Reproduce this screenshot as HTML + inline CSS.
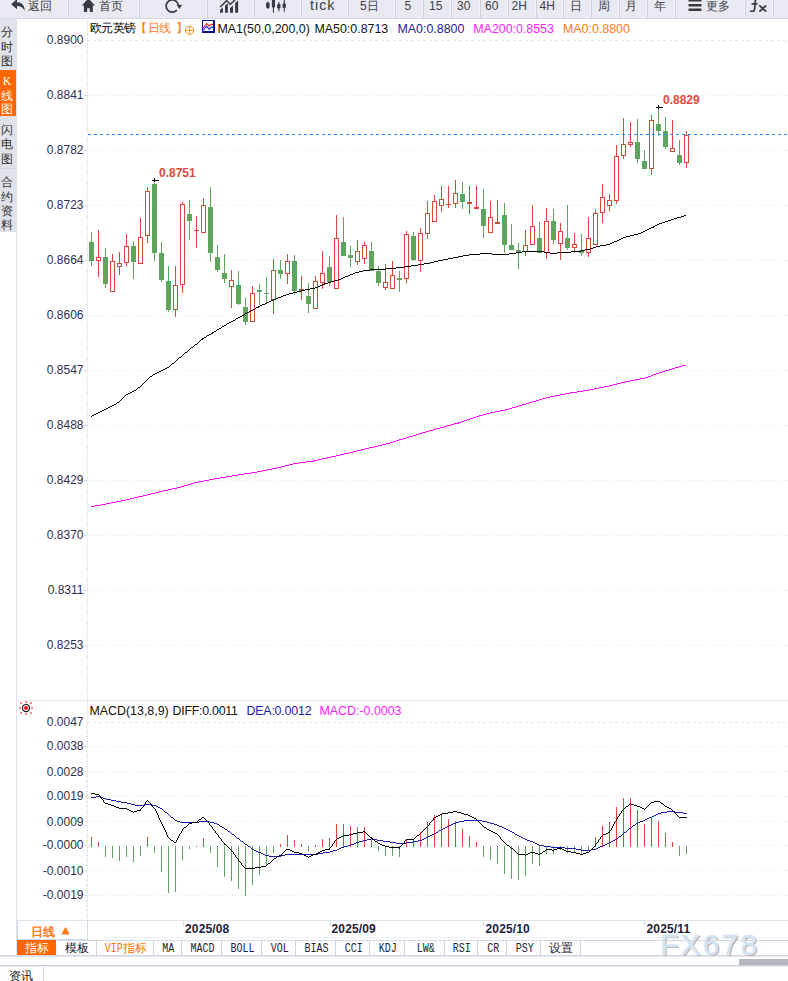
<!DOCTYPE html>
<html lang="zh"><head><meta charset="utf-8"><title>K线图</title>
<style>
html,body{margin:0;padding:0;background:#fff}
body{width:788px;height:981px;position:relative;overflow:hidden;font-family:"Liberation Sans",sans-serif;font-size:12px;color:#222}
#page{position:absolute;left:0;top:0;width:788px;height:981px;overflow:hidden;background:#fff}
#toolbar{position:absolute;left:0;top:0;width:788px;height:18px;background:#e8e9f1;border-bottom:1px solid #d6d8e1}
.sep{position:absolute;top:0;width:1px;height:18px;background:#f1f2f7;box-shadow:1px 0 0 #cdd0da}
.tbt{position:absolute;top:-3.5px;height:18px;line-height:18px;font-size:12px;color:#404248;white-space:nowrap}
.tbi{position:absolute;top:0;overflow:visible}
#side{position:absolute;left:0;top:19px;width:17px;height:213px;background:#e0e2ea}
.sc{position:absolute;left:-1px;width:16px;text-align:center;font-size:12px;line-height:14px;color:#333;height:14px}
.yl{position:absolute;left:20px;width:63.5px;text-align:right;font-size:12px;line-height:16px;height:16px;color:#2e2e50;white-space:nowrap}
.lg{position:absolute;top:19.5px;height:18px;line-height:18px;font-size:12.4px;white-space:nowrap;color:#111}
.mg{position:absolute;top:702px;height:18px;line-height:18px;font-size:12.4px;white-space:nowrap;color:#111}
.pl{position:absolute;font-size:12px;font-weight:bold;color:#dc4a40;line-height:14px;white-space:nowrap}
.tl{position:absolute;top:922px;letter-spacing:0.15px;font-size:12px;font-weight:bold;color:#22223c;line-height:14px;white-space:nowrap}
.tk{position:absolute;top:921px;width:1px;height:5px;background:#d3dbe6}
.btab{position:absolute;top:941px;height:14px;line-height:15px;text-align:center;font-size:12px;color:#1c2233;border-right:1px solid #cfd8e2;white-space:nowrap}
.btab .mn{display:inline-block;font-family:"Liberation Mono",monospace;font-size:12px;transform:scaleX(.835);transform-origin:50% 50%;margin:0 -2px}
.btab.vip{color:#ff7200}
.btab.vip .mn{margin:0 -1.5px 0 -2px}
</style></head>
<body><div id="page">
<svg id="chart" width="788" height="981" viewBox="0 0 788 981" style="position:absolute;left:0;top:0">
<g shape-rendering="crispEdges">
<rect x="87" y="19" width="1" height="921" fill="#e9eef4"/>
<rect x="16" y="232" width="1" height="724" fill="#dbe2ec"/>
<line x1="87" y1="40.5" x2="788" y2="40.5" stroke="#e1e9f0" stroke-width="1" stroke-dasharray="3 3"/>
<line x1="88" y1="95.5" x2="788" y2="95.5" stroke="#e4eaf1" stroke-width="1" stroke-dasharray="1 2"/>
<rect x="84" y="95" width="3" height="1" fill="#ccd6e0"/>
<line x1="88" y1="150.5" x2="788" y2="150.5" stroke="#e4eaf1" stroke-width="1" stroke-dasharray="1 2"/>
<rect x="84" y="150" width="3" height="1" fill="#ccd6e0"/>
<line x1="88" y1="205.5" x2="788" y2="205.5" stroke="#e4eaf1" stroke-width="1" stroke-dasharray="1 2"/>
<rect x="84" y="205" width="3" height="1" fill="#ccd6e0"/>
<line x1="88" y1="260.5" x2="788" y2="260.5" stroke="#e4eaf1" stroke-width="1" stroke-dasharray="1 2"/>
<rect x="84" y="260" width="3" height="1" fill="#ccd6e0"/>
<line x1="88" y1="315.5" x2="788" y2="315.5" stroke="#e4eaf1" stroke-width="1" stroke-dasharray="1 2"/>
<rect x="84" y="315" width="3" height="1" fill="#ccd6e0"/>
<line x1="88" y1="370.5" x2="788" y2="370.5" stroke="#e4eaf1" stroke-width="1" stroke-dasharray="1 2"/>
<rect x="84" y="370" width="3" height="1" fill="#ccd6e0"/>
<line x1="88" y1="425.5" x2="788" y2="425.5" stroke="#e4eaf1" stroke-width="1" stroke-dasharray="1 2"/>
<rect x="84" y="425" width="3" height="1" fill="#ccd6e0"/>
<line x1="88" y1="480.5" x2="788" y2="480.5" stroke="#e4eaf1" stroke-width="1" stroke-dasharray="1 2"/>
<rect x="84" y="480" width="3" height="1" fill="#ccd6e0"/>
<line x1="88" y1="535.5" x2="788" y2="535.5" stroke="#e4eaf1" stroke-width="1" stroke-dasharray="1 2"/>
<rect x="84" y="535" width="3" height="1" fill="#ccd6e0"/>
<line x1="88" y1="590.5" x2="788" y2="590.5" stroke="#e4eaf1" stroke-width="1" stroke-dasharray="1 2"/>
<rect x="84" y="590" width="3" height="1" fill="#ccd6e0"/>
<line x1="88" y1="645.5" x2="788" y2="645.5" stroke="#e4eaf1" stroke-width="1" stroke-dasharray="1 2"/>
<rect x="84" y="645" width="3" height="1" fill="#ccd6e0"/>
<rect x="86" y="51" width="1" height="1" fill="#c8d2dc"/>
<rect x="86" y="62" width="1" height="1" fill="#c8d2dc"/>
<rect x="86" y="73" width="1" height="1" fill="#c8d2dc"/>
<rect x="86" y="84" width="1" height="1" fill="#c8d2dc"/>
<rect x="86" y="106" width="1" height="1" fill="#c8d2dc"/>
<rect x="86" y="117" width="1" height="1" fill="#c8d2dc"/>
<rect x="86" y="128" width="1" height="1" fill="#c8d2dc"/>
<rect x="86" y="139" width="1" height="1" fill="#c8d2dc"/>
<rect x="86" y="161" width="1" height="1" fill="#c8d2dc"/>
<rect x="86" y="172" width="1" height="1" fill="#c8d2dc"/>
<rect x="86" y="183" width="1" height="1" fill="#c8d2dc"/>
<rect x="86" y="194" width="1" height="1" fill="#c8d2dc"/>
<rect x="86" y="216" width="1" height="1" fill="#c8d2dc"/>
<rect x="86" y="227" width="1" height="1" fill="#c8d2dc"/>
<rect x="86" y="238" width="1" height="1" fill="#c8d2dc"/>
<rect x="86" y="249" width="1" height="1" fill="#c8d2dc"/>
<rect x="86" y="271" width="1" height="1" fill="#c8d2dc"/>
<rect x="86" y="282" width="1" height="1" fill="#c8d2dc"/>
<rect x="86" y="293" width="1" height="1" fill="#c8d2dc"/>
<rect x="86" y="304" width="1" height="1" fill="#c8d2dc"/>
<rect x="86" y="326" width="1" height="1" fill="#c8d2dc"/>
<rect x="86" y="337" width="1" height="1" fill="#c8d2dc"/>
<rect x="86" y="348" width="1" height="1" fill="#c8d2dc"/>
<rect x="86" y="359" width="1" height="1" fill="#c8d2dc"/>
<rect x="86" y="381" width="1" height="1" fill="#c8d2dc"/>
<rect x="86" y="392" width="1" height="1" fill="#c8d2dc"/>
<rect x="86" y="403" width="1" height="1" fill="#c8d2dc"/>
<rect x="86" y="414" width="1" height="1" fill="#c8d2dc"/>
<rect x="86" y="436" width="1" height="1" fill="#c8d2dc"/>
<rect x="86" y="447" width="1" height="1" fill="#c8d2dc"/>
<rect x="86" y="458" width="1" height="1" fill="#c8d2dc"/>
<rect x="86" y="469" width="1" height="1" fill="#c8d2dc"/>
<rect x="86" y="491" width="1" height="1" fill="#c8d2dc"/>
<rect x="86" y="502" width="1" height="1" fill="#c8d2dc"/>
<rect x="86" y="513" width="1" height="1" fill="#c8d2dc"/>
<rect x="86" y="524" width="1" height="1" fill="#c8d2dc"/>
<rect x="86" y="546" width="1" height="1" fill="#c8d2dc"/>
<rect x="86" y="557" width="1" height="1" fill="#c8d2dc"/>
<rect x="86" y="568" width="1" height="1" fill="#c8d2dc"/>
<rect x="86" y="579" width="1" height="1" fill="#c8d2dc"/>
<rect x="86" y="601" width="1" height="1" fill="#c8d2dc"/>
<rect x="86" y="612" width="1" height="1" fill="#c8d2dc"/>
<rect x="86" y="623" width="1" height="1" fill="#c8d2dc"/>
<rect x="86" y="634" width="1" height="1" fill="#c8d2dc"/>
<rect x="86" y="656" width="1" height="1" fill="#c8d2dc"/>
<rect x="86" y="667" width="1" height="1" fill="#c8d2dc"/>
<rect x="86" y="678" width="1" height="1" fill="#c8d2dc"/>
<rect x="86" y="689" width="1" height="1" fill="#c8d2dc"/>
<rect x="17" y="700" width="771" height="1" fill="#e3e8ef"/>
<line x1="87" y1="722.5" x2="788" y2="722.5" stroke="#e1e9f0" stroke-width="1" stroke-dasharray="3 3"/>
<line x1="88" y1="746.5" x2="788" y2="746.5" stroke="#e4eaf1" stroke-width="1" stroke-dasharray="1 2"/>
<rect x="85" y="746" width="2" height="1" fill="#ccd6e0"/>
<line x1="88" y1="771.5" x2="788" y2="771.5" stroke="#e4eaf1" stroke-width="1" stroke-dasharray="1 2"/>
<rect x="85" y="771" width="2" height="1" fill="#ccd6e0"/>
<line x1="88" y1="796.5" x2="788" y2="796.5" stroke="#e4eaf1" stroke-width="1" stroke-dasharray="1 2"/>
<rect x="85" y="796" width="2" height="1" fill="#ccd6e0"/>
<line x1="88" y1="821.5" x2="788" y2="821.5" stroke="#e4eaf1" stroke-width="1" stroke-dasharray="1 2"/>
<rect x="85" y="821" width="2" height="1" fill="#ccd6e0"/>
<line x1="88" y1="845.5" x2="788" y2="845.5" stroke="#e4eaf1" stroke-width="1" stroke-dasharray="1 2"/>
<rect x="85" y="845" width="2" height="1" fill="#ccd6e0"/>
<line x1="88" y1="870.5" x2="788" y2="870.5" stroke="#e4eaf1" stroke-width="1" stroke-dasharray="1 2"/>
<rect x="85" y="870" width="2" height="1" fill="#ccd6e0"/>
<line x1="88" y1="895.5" x2="788" y2="895.5" stroke="#e4eaf1" stroke-width="1" stroke-dasharray="1 2"/>
<rect x="85" y="895" width="2" height="1" fill="#ccd6e0"/>
<rect x="86" y="726" width="1" height="1" fill="#c8d2dc"/>
<rect x="86" y="731" width="1" height="1" fill="#c8d2dc"/>
<rect x="86" y="736" width="1" height="1" fill="#c8d2dc"/>
<rect x="86" y="741" width="1" height="1" fill="#c8d2dc"/>
<rect x="86" y="751" width="1" height="1" fill="#c8d2dc"/>
<rect x="86" y="756" width="1" height="1" fill="#c8d2dc"/>
<rect x="86" y="761" width="1" height="1" fill="#c8d2dc"/>
<rect x="86" y="766" width="1" height="1" fill="#c8d2dc"/>
<rect x="86" y="776" width="1" height="1" fill="#c8d2dc"/>
<rect x="86" y="781" width="1" height="1" fill="#c8d2dc"/>
<rect x="86" y="786" width="1" height="1" fill="#c8d2dc"/>
<rect x="86" y="791" width="1" height="1" fill="#c8d2dc"/>
<rect x="86" y="801" width="1" height="1" fill="#c8d2dc"/>
<rect x="86" y="806" width="1" height="1" fill="#c8d2dc"/>
<rect x="86" y="811" width="1" height="1" fill="#c8d2dc"/>
<rect x="86" y="816" width="1" height="1" fill="#c8d2dc"/>
<rect x="86" y="825" width="1" height="1" fill="#c8d2dc"/>
<rect x="86" y="830" width="1" height="1" fill="#c8d2dc"/>
<rect x="86" y="835" width="1" height="1" fill="#c8d2dc"/>
<rect x="86" y="840" width="1" height="1" fill="#c8d2dc"/>
<rect x="86" y="850" width="1" height="1" fill="#c8d2dc"/>
<rect x="86" y="855" width="1" height="1" fill="#c8d2dc"/>
<rect x="86" y="860" width="1" height="1" fill="#c8d2dc"/>
<rect x="86" y="865" width="1" height="1" fill="#c8d2dc"/>
<rect x="86" y="875" width="1" height="1" fill="#c8d2dc"/>
<rect x="86" y="880" width="1" height="1" fill="#c8d2dc"/>
<rect x="86" y="885" width="1" height="1" fill="#c8d2dc"/>
<rect x="86" y="890" width="1" height="1" fill="#c8d2dc"/>
<rect x="86" y="900" width="1" height="1" fill="#c8d2dc"/>
<rect x="86" y="905" width="1" height="1" fill="#c8d2dc"/>
<rect x="86" y="910" width="1" height="1" fill="#c8d2dc"/>
<rect x="86" y="915" width="1" height="1" fill="#c8d2dc"/>
<rect x="17" y="920" width="771" height="1" fill="#dfe5ec"/>
</g>
<g shape-rendering="crispEdges">
<rect x="91" y="232" width="1" height="34" fill="#5fa55d"/>
<rect x="89" y="242" width="5" height="19" fill="#5fa55d"/>
<rect x="98" y="230" width="1" height="47" fill="#d8463c"/>
<rect x="96" y="257" width="5" height="4" fill="#d8463c"/>
<rect x="97" y="258" width="3" height="2" fill="#fff"/>
<rect x="105" y="248" width="1" height="40" fill="#5fa55d"/>
<rect x="103" y="257" width="5" height="27" fill="#5fa55d"/>
<rect x="112" y="254" width="1" height="38" fill="#d8463c"/>
<rect x="110" y="261" width="5" height="31" fill="#d8463c"/>
<rect x="111" y="262" width="3" height="29" fill="#fff"/>
<rect x="119" y="252" width="1" height="23" fill="#d8463c"/>
<rect x="117" y="263" width="5" height="4" fill="#d8463c"/>
<rect x="118" y="264" width="3" height="2" fill="#fff"/>
<rect x="126" y="234" width="1" height="32" fill="#d8463c"/>
<rect x="124" y="246" width="5" height="17" fill="#d8463c"/>
<rect x="125" y="247" width="3" height="15" fill="#fff"/>
<rect x="133" y="241" width="1" height="38" fill="#5fa55d"/>
<rect x="131" y="246" width="5" height="16" fill="#5fa55d"/>
<rect x="140" y="218" width="1" height="46" fill="#d8463c"/>
<rect x="138" y="237" width="5" height="27" fill="#d8463c"/>
<rect x="139" y="238" width="3" height="25" fill="#fff"/>
<rect x="147" y="187" width="1" height="56" fill="#d8463c"/>
<rect x="145" y="191" width="5" height="45" fill="#d8463c"/>
<rect x="146" y="192" width="3" height="43" fill="#fff"/>
<rect x="154" y="182" width="1" height="79" fill="#5fa55d"/>
<rect x="152" y="184" width="5" height="69" fill="#5fa55d"/>
<rect x="161" y="242" width="1" height="40" fill="#5fa55d"/>
<rect x="159" y="253" width="5" height="27" fill="#5fa55d"/>
<rect x="168" y="266" width="1" height="46" fill="#5fa55d"/>
<rect x="166" y="281" width="5" height="29" fill="#5fa55d"/>
<rect x="175" y="266" width="1" height="51" fill="#d8463c"/>
<rect x="173" y="285" width="5" height="25" fill="#d8463c"/>
<rect x="174" y="286" width="3" height="23" fill="#fff"/>
<rect x="182" y="202" width="1" height="91" fill="#d8463c"/>
<rect x="180" y="204" width="5" height="81" fill="#d8463c"/>
<rect x="181" y="205" width="3" height="79" fill="#fff"/>
<rect x="189" y="200" width="1" height="40" fill="#5fa55d"/>
<rect x="187" y="214" width="5" height="7" fill="#5fa55d"/>
<rect x="196" y="216" width="1" height="32" fill="#d8463c"/>
<rect x="194" y="230" width="5" height="1" fill="#d8463c"/>
<rect x="203" y="198" width="1" height="35" fill="#d8463c"/>
<rect x="201" y="205" width="5" height="28" fill="#d8463c"/>
<rect x="202" y="206" width="3" height="26" fill="#fff"/>
<rect x="210" y="187" width="1" height="75" fill="#5fa55d"/>
<rect x="208" y="207" width="5" height="46" fill="#5fa55d"/>
<rect x="217" y="245" width="1" height="27" fill="#5fa55d"/>
<rect x="215" y="257" width="5" height="13" fill="#5fa55d"/>
<rect x="224" y="254" width="1" height="29" fill="#5fa55d"/>
<rect x="222" y="273" width="5" height="6" fill="#5fa55d"/>
<rect x="231" y="270" width="1" height="38" fill="#d8463c"/>
<rect x="229" y="280" width="5" height="7" fill="#d8463c"/>
<rect x="230" y="281" width="3" height="5" fill="#fff"/>
<rect x="238" y="271" width="1" height="34" fill="#5fa55d"/>
<rect x="236" y="285" width="5" height="19" fill="#5fa55d"/>
<rect x="245" y="298" width="1" height="27" fill="#5fa55d"/>
<rect x="243" y="307" width="5" height="15" fill="#5fa55d"/>
<rect x="252" y="286" width="1" height="36" fill="#d8463c"/>
<rect x="250" y="293" width="5" height="29" fill="#d8463c"/>
<rect x="251" y="294" width="3" height="27" fill="#fff"/>
<rect x="259" y="284" width="1" height="21" fill="#5fa55d"/>
<rect x="257" y="290" width="5" height="2" fill="#5fa55d"/>
<rect x="266" y="277" width="1" height="27" fill="#5fa55d"/>
<rect x="264" y="293" width="5" height="1" fill="#5fa55d"/>
<rect x="273" y="259" width="1" height="55" fill="#d8463c"/>
<rect x="271" y="270" width="5" height="30" fill="#d8463c"/>
<rect x="272" y="271" width="3" height="28" fill="#fff"/>
<rect x="280" y="260" width="1" height="19" fill="#5fa55d"/>
<rect x="278" y="270" width="5" height="4" fill="#5fa55d"/>
<rect x="287" y="254" width="1" height="30" fill="#d8463c"/>
<rect x="285" y="261" width="5" height="13" fill="#d8463c"/>
<rect x="286" y="262" width="3" height="11" fill="#fff"/>
<rect x="294" y="255" width="1" height="40" fill="#5fa55d"/>
<rect x="292" y="261" width="5" height="30" fill="#5fa55d"/>
<rect x="301" y="276" width="1" height="24" fill="#d8463c"/>
<rect x="299" y="289" width="5" height="2" fill="#d8463c"/>
<rect x="308" y="283" width="1" height="30" fill="#5fa55d"/>
<rect x="306" y="296" width="5" height="8" fill="#5fa55d"/>
<rect x="315" y="276" width="1" height="33" fill="#d8463c"/>
<rect x="313" y="281" width="5" height="28" fill="#d8463c"/>
<rect x="314" y="282" width="3" height="26" fill="#fff"/>
<rect x="322" y="251" width="1" height="38" fill="#d8463c"/>
<rect x="320" y="273" width="5" height="10" fill="#d8463c"/>
<rect x="321" y="274" width="3" height="8" fill="#fff"/>
<rect x="329" y="256" width="1" height="30" fill="#5fa55d"/>
<rect x="327" y="267" width="5" height="15" fill="#5fa55d"/>
<rect x="336" y="215" width="1" height="74" fill="#d8463c"/>
<rect x="334" y="238" width="5" height="51" fill="#d8463c"/>
<rect x="335" y="239" width="3" height="49" fill="#fff"/>
<rect x="343" y="217" width="1" height="39" fill="#5fa55d"/>
<rect x="341" y="242" width="5" height="14" fill="#5fa55d"/>
<rect x="350" y="246" width="1" height="21" fill="#5fa55d"/>
<rect x="348" y="255" width="5" height="3" fill="#5fa55d"/>
<rect x="357" y="240" width="1" height="25" fill="#d8463c"/>
<rect x="355" y="251" width="5" height="11" fill="#d8463c"/>
<rect x="356" y="252" width="3" height="9" fill="#fff"/>
<rect x="364" y="242" width="1" height="22" fill="#d8463c"/>
<rect x="362" y="245" width="5" height="14" fill="#d8463c"/>
<rect x="363" y="246" width="3" height="12" fill="#fff"/>
<rect x="371" y="242" width="1" height="29" fill="#5fa55d"/>
<rect x="369" y="251" width="5" height="20" fill="#5fa55d"/>
<rect x="378" y="266" width="1" height="20" fill="#5fa55d"/>
<rect x="376" y="271" width="5" height="12" fill="#5fa55d"/>
<rect x="385" y="264" width="1" height="26" fill="#d8463c"/>
<rect x="383" y="282" width="5" height="6" fill="#d8463c"/>
<rect x="384" y="283" width="3" height="4" fill="#fff"/>
<rect x="392" y="261" width="1" height="28" fill="#d8463c"/>
<rect x="390" y="275" width="5" height="14" fill="#d8463c"/>
<rect x="391" y="276" width="3" height="12" fill="#fff"/>
<rect x="399" y="271" width="1" height="21" fill="#5fa55d"/>
<rect x="397" y="278" width="5" height="2" fill="#5fa55d"/>
<rect x="406" y="231" width="1" height="52" fill="#d8463c"/>
<rect x="404" y="234" width="5" height="45" fill="#d8463c"/>
<rect x="405" y="235" width="3" height="43" fill="#fff"/>
<rect x="413" y="232" width="1" height="29" fill="#5fa55d"/>
<rect x="411" y="236" width="5" height="24" fill="#5fa55d"/>
<rect x="420" y="228" width="1" height="44" fill="#d8463c"/>
<rect x="418" y="233" width="5" height="28" fill="#d8463c"/>
<rect x="419" y="234" width="3" height="26" fill="#fff"/>
<rect x="427" y="201" width="1" height="38" fill="#d8463c"/>
<rect x="425" y="213" width="5" height="21" fill="#d8463c"/>
<rect x="426" y="214" width="3" height="19" fill="#fff"/>
<rect x="434" y="195" width="1" height="27" fill="#d8463c"/>
<rect x="432" y="201" width="5" height="21" fill="#d8463c"/>
<rect x="433" y="202" width="3" height="19" fill="#fff"/>
<rect x="441" y="186" width="1" height="26" fill="#d8463c"/>
<rect x="439" y="199" width="5" height="7" fill="#d8463c"/>
<rect x="440" y="200" width="3" height="5" fill="#fff"/>
<rect x="448" y="186" width="1" height="22" fill="#d8463c"/>
<rect x="446" y="204" width="5" height="1" fill="#d8463c"/>
<rect x="455" y="180" width="1" height="28" fill="#d8463c"/>
<rect x="453" y="193" width="5" height="11" fill="#d8463c"/>
<rect x="454" y="194" width="3" height="9" fill="#fff"/>
<rect x="462" y="182" width="1" height="27" fill="#5fa55d"/>
<rect x="460" y="194" width="5" height="8" fill="#5fa55d"/>
<rect x="469" y="186" width="1" height="28" fill="#d8463c"/>
<rect x="467" y="202" width="5" height="2" fill="#d8463c"/>
<rect x="476" y="186" width="1" height="23" fill="#d8463c"/>
<rect x="474" y="207" width="5" height="2" fill="#d8463c"/>
<rect x="483" y="189" width="1" height="49" fill="#5fa55d"/>
<rect x="481" y="209" width="5" height="17" fill="#5fa55d"/>
<rect x="490" y="201" width="1" height="32" fill="#d8463c"/>
<rect x="488" y="217" width="5" height="16" fill="#d8463c"/>
<rect x="489" y="218" width="3" height="14" fill="#fff"/>
<rect x="497" y="200" width="1" height="24" fill="#d8463c"/>
<rect x="495" y="222" width="5" height="2" fill="#d8463c"/>
<rect x="504" y="203" width="1" height="50" fill="#5fa55d"/>
<rect x="502" y="215" width="5" height="30" fill="#5fa55d"/>
<rect x="511" y="224" width="1" height="26" fill="#5fa55d"/>
<rect x="509" y="245" width="5" height="5" fill="#5fa55d"/>
<rect x="518" y="243" width="1" height="26" fill="#5fa55d"/>
<rect x="516" y="250" width="5" height="3" fill="#5fa55d"/>
<rect x="525" y="230" width="1" height="26" fill="#d8463c"/>
<rect x="523" y="245" width="5" height="7" fill="#d8463c"/>
<rect x="524" y="246" width="3" height="5" fill="#fff"/>
<rect x="532" y="205" width="1" height="40" fill="#d8463c"/>
<rect x="530" y="226" width="5" height="19" fill="#d8463c"/>
<rect x="531" y="227" width="3" height="17" fill="#fff"/>
<rect x="539" y="222" width="1" height="31" fill="#5fa55d"/>
<rect x="537" y="238" width="5" height="15" fill="#5fa55d"/>
<rect x="546" y="208" width="1" height="51" fill="#d8463c"/>
<rect x="544" y="221" width="5" height="32" fill="#d8463c"/>
<rect x="545" y="222" width="3" height="30" fill="#fff"/>
<rect x="553" y="209" width="1" height="35" fill="#5fa55d"/>
<rect x="551" y="221" width="5" height="19" fill="#5fa55d"/>
<rect x="560" y="223" width="1" height="37" fill="#d8463c"/>
<rect x="558" y="231" width="5" height="13" fill="#d8463c"/>
<rect x="559" y="232" width="3" height="11" fill="#fff"/>
<rect x="567" y="205" width="1" height="45" fill="#5fa55d"/>
<rect x="565" y="238" width="5" height="10" fill="#5fa55d"/>
<rect x="574" y="233" width="1" height="18" fill="#d8463c"/>
<rect x="572" y="244" width="5" height="4" fill="#d8463c"/>
<rect x="573" y="245" width="3" height="2" fill="#fff"/>
<rect x="581" y="234" width="1" height="22" fill="#5fa55d"/>
<rect x="579" y="250" width="5" height="3" fill="#5fa55d"/>
<rect x="588" y="217" width="1" height="40" fill="#d8463c"/>
<rect x="586" y="238" width="5" height="15" fill="#d8463c"/>
<rect x="587" y="239" width="3" height="13" fill="#fff"/>
<rect x="595" y="209" width="1" height="36" fill="#d8463c"/>
<rect x="593" y="213" width="5" height="32" fill="#d8463c"/>
<rect x="594" y="214" width="3" height="30" fill="#fff"/>
<rect x="602" y="184" width="1" height="39" fill="#d8463c"/>
<rect x="600" y="197" width="5" height="16" fill="#d8463c"/>
<rect x="601" y="198" width="3" height="14" fill="#fff"/>
<rect x="609" y="194" width="1" height="17" fill="#d8463c"/>
<rect x="607" y="200" width="5" height="6" fill="#d8463c"/>
<rect x="608" y="201" width="3" height="4" fill="#fff"/>
<rect x="616" y="145" width="1" height="59" fill="#d8463c"/>
<rect x="614" y="156" width="5" height="45" fill="#d8463c"/>
<rect x="615" y="157" width="3" height="43" fill="#fff"/>
<rect x="623" y="118" width="1" height="41" fill="#d8463c"/>
<rect x="621" y="144" width="5" height="12" fill="#d8463c"/>
<rect x="622" y="145" width="3" height="10" fill="#fff"/>
<rect x="630" y="122" width="1" height="25" fill="#d8463c"/>
<rect x="628" y="142" width="5" height="3" fill="#d8463c"/>
<rect x="629" y="143" width="3" height="1" fill="#fff"/>
<rect x="637" y="119" width="1" height="44" fill="#5fa55d"/>
<rect x="635" y="142" width="5" height="17" fill="#5fa55d"/>
<rect x="644" y="150" width="1" height="19" fill="#5fa55d"/>
<rect x="642" y="161" width="5" height="8" fill="#5fa55d"/>
<rect x="651" y="115" width="1" height="60" fill="#d8463c"/>
<rect x="649" y="120" width="5" height="49" fill="#d8463c"/>
<rect x="650" y="121" width="3" height="47" fill="#fff"/>
<rect x="658" y="109" width="1" height="27" fill="#5fa55d"/>
<rect x="656" y="124" width="5" height="7" fill="#5fa55d"/>
<rect x="665" y="117" width="1" height="32" fill="#5fa55d"/>
<rect x="663" y="131" width="5" height="16" fill="#5fa55d"/>
<rect x="672" y="120" width="1" height="32" fill="#d8463c"/>
<rect x="670" y="148" width="5" height="4" fill="#d8463c"/>
<rect x="671" y="149" width="3" height="2" fill="#fff"/>
<rect x="679" y="140" width="1" height="25" fill="#5fa55d"/>
<rect x="677" y="155" width="5" height="8" fill="#5fa55d"/>
<rect x="686" y="131" width="1" height="37" fill="#d8463c"/>
<rect x="684" y="135" width="5" height="28" fill="#d8463c"/>
<rect x="685" y="136" width="3" height="26" fill="#fff"/>
</g>
<line x1="88" y1="134.5" x2="788" y2="134.5" stroke="#1e8fff" stroke-width="1" stroke-dasharray="3 3" shape-rendering="crispEdges"/>
<path d="M684 215h2v1h-2zM681 216h3v1h-3zM677 217h4v1h-4zM674 218h3v1h-3zM671 219h3v1h-3zM668 220h3v1h-3zM665 221h3v1h-3zM662 222h3v1h-3zM659 223h3v1h-3zM657 224h2v1h-2zM655 225h2v1h-2zM653 226h2v1h-2zM651 227h3v1h-3zM649 228h2v1h-2zM647 229h2v1h-2zM645 230h2v1h-2zM643 231h2v1h-2zM641 232h2v1h-2zM638 233h3v1h-3zM634 234h4v1h-4zM630 235h4v1h-4zM626 236h4v1h-4zM623 237h3v1h-3zM621 238h2v1h-2zM619 239h2v1h-2zM617 240h2v1h-2zM614 241h3v1h-3zM612 242h2v1h-2zM610 243h2v1h-2zM606 244h4v1h-4zM600 245h6v1h-6zM596 246h4v1h-4zM593 247h3v1h-3zM590 248h3v1h-3zM585 249h5v1h-5zM581 250h4v1h-4zM522 251h22v1h-22zM571 251h10v1h-10zM516 252h6v1h-6zM544 252h6v1h-6zM557 252h14v1h-14zM480 253h12v1h-12zM509 253h7v1h-7zM550 253h7v1h-7zM469 254h11v1h-11zM492 254h17v1h-17zM463 255h6v1h-6zM458 256h5v1h-5zM453 257h5v1h-5zM448 258h5v1h-5zM443 259h5v1h-5zM438 260h5v1h-5zM434 261h4v1h-4zM430 262h4v1h-4zM424 263h6v1h-6zM418 264h6v1h-6zM411 265h7v1h-7zM404 266h7v1h-7zM396 267h8v1h-8zM386 268h10v1h-10zM370 269h16v1h-16zM363 270h7v1h-7zM359 271h4v1h-4zM355 272h4v1h-4zM353 273h2v1h-2zM350 274h3v1h-3zM348 275h2v1h-2zM345 276h3v1h-3zM343 277h2v1h-2zM341 278h2v1h-2zM338 279h3v1h-3zM334 280h4v1h-4zM331 281h3v1h-3zM328 282h3v1h-3zM324 283h4v1h-4zM322 284h3v1h-3zM320 285h2v1h-2zM318 286h2v1h-2zM315 287h3v1h-3zM310 288h5v1h-5zM305 289h5v1h-5zM301 290h4v1h-4zM297 291h4v1h-4zM293 292h4v1h-4zM289 293h4v1h-4zM286 294h3v1h-3zM283 295h3v1h-3zM281 296h2v1h-2zM278 297h3v1h-3zM276 298h2v1h-2zM273 299h3v1h-3zM271 300h2v1h-2zM269 301h2v1h-2zM267 302h2v1h-2zM265 303h2v1h-2zM262 304h3v1h-3zM260 305h2v1h-2zM258 306h2v1h-2zM256 307h3v1h-3zM255 308h1v1h-1zM253 309h2v1h-2zM251 310h2v1h-2zM249 311h2v1h-2zM247 312h2v1h-2zM245 313h2v1h-2zM244 314h1v1h-1zM242 315h2v1h-2zM240 316h2v1h-2zM238 317h2v1h-2zM236 318h2v1h-2zM235 319h1v1h-1zM233 320h2v1h-2zM231 321h2v1h-2zM229 322h2v1h-2zM227 323h2v1h-2zM226 324h1v1h-1zM224 325h2v1h-2zM222 326h2v1h-2zM221 327h1v1h-1zM219 328h2v1h-2zM217 329h2v1h-2zM216 330h1v1h-1zM214 331h2v1h-2zM212 332h2v1h-2zM211 333h2v1h-2zM209 334h2v1h-2zM207 335h2v1h-2zM206 336h1v1h-1zM204 337h2v1h-2zM202 338h2v1h-2zM201 339h2v1h-2zM200 340h1v1h-1zM199 341h1v1h-1zM198 342h1v1h-1zM197 343h1v1h-1zM195 344h2v1h-2zM194 345h1v1h-1zM193 346h1v1h-1zM191 347h2v1h-2zM190 348h1v1h-1zM189 349h1v1h-1zM188 350h1v1h-1zM187 351h1v1h-1zM185 352h2v1h-2zM184 353h1v1h-1zM183 354h1v1h-1zM182 355h1v1h-1zM181 356h1v1h-1zM179 357h2v1h-2zM178 358h1v1h-1zM177 359h1v1h-1zM176 360h1v1h-1zM175 361h1v1h-1zM174 362h1v1h-1zM172 363h2v1h-2zM171 364h1v1h-1zM170 365h1v1h-1zM169 366h1v1h-1zM167 367h2v1h-2zM165 368h2v1h-2zM163 369h2v1h-2zM161 370h2v1h-2zM159 371h2v1h-2zM157 372h2v1h-2zM155 373h2v1h-2zM153 374h2v1h-2zM152 375h1v1h-1zM150 376h2v1h-2zM149 377h1v1h-1zM148 378h1v1h-1zM147 379h1v1h-1zM146 380h1v1h-1zM145 381h1v1h-1zM144 382h1v1h-1zM143 383h1v1h-1zM142 384h1v1h-1zM141 385h1v1h-1zM140 386h1v1h-1zM138 387h2v1h-2zM137 388h1v1h-1zM136 389h1v1h-1zM134 390h2v1h-2zM132 391h2v1h-2zM130 392h2v1h-2zM128 393h2v1h-2zM126 394h2v1h-2zM125 395h1v1h-1zM124 396h1v1h-1zM123 397h1v1h-1zM122 398h1v1h-1zM121 399h1v1h-1zM120 400h1v1h-1zM119 401h1v1h-1zM117 402h2v1h-2zM116 403h1v1h-1zM114 404h2v1h-2zM112 405h2v1h-2zM110 406h2v1h-2zM108 407h2v1h-2zM106 408h2v1h-2zM104 409h2v1h-2zM102 410h2v1h-2zM100 411h2v1h-2zM98 412h2v1h-2zM96 413h2v1h-2zM94 414h2v1h-2zM92 415h2v1h-2zM91 416h1v1h-1z" fill="#000" shape-rendering="crispEdges"/>
<path d="M682 365h4v1h-4zM679 366h3v1h-3zM675 367h4v1h-4zM672 368h3v1h-3zM669 369h3v1h-3zM665 370h4v1h-4zM662 371h3v1h-3zM659 372h3v1h-3zM656 373h3v1h-3zM653 374h3v1h-3zM651 375h2v1h-2zM648 376h3v1h-3zM645 377h3v1h-3zM640 378h5v1h-5zM635 379h5v1h-5zM630 380h5v1h-5zM625 381h5v1h-5zM621 382h4v1h-4zM617 383h4v1h-4zM613 384h4v1h-4zM609 385h4v1h-4zM604 386h5v1h-5zM599 387h5v1h-5zM594 388h5v1h-5zM589 389h5v1h-5zM583 390h6v1h-6zM577 391h6v1h-6zM570 392h7v1h-7zM565 393h5v1h-5zM560 394h5v1h-5zM555 395h5v1h-5zM550 396h5v1h-5zM546 397h4v1h-4zM542 398h4v1h-4zM539 399h3v1h-3zM536 400h3v1h-3zM532 401h4v1h-4zM529 402h3v1h-3zM526 403h3v1h-3zM522 404h4v1h-4zM519 405h3v1h-3zM516 406h3v1h-3zM512 407h4v1h-4zM509 408h3v1h-3zM505 409h4v1h-4zM500 410h5v1h-5zM495 411h5v1h-5zM490 412h5v1h-5zM486 413h4v1h-4zM483 414h3v1h-3zM479 415h4v1h-4zM476 416h3v1h-3zM473 417h3v1h-3zM470 418h3v1h-3zM467 419h3v1h-3zM464 420h3v1h-3zM461 421h3v1h-3zM458 422h3v1h-3zM454 423h5v1h-5zM451 424h3v1h-3zM447 425h4v1h-4zM444 426h3v1h-3zM440 427h4v1h-4zM436 428h4v1h-4zM433 429h3v1h-3zM429 430h4v1h-4zM426 431h3v1h-3zM422 432h4v1h-4zM419 433h3v1h-3zM416 434h3v1h-3zM413 435h3v1h-3zM409 436h4v1h-4zM406 437h3v1h-3zM403 438h3v1h-3zM399 439h4v1h-4zM396 440h3v1h-3zM393 441h3v1h-3zM390 442h3v1h-3zM386 443h4v1h-4zM382 444h4v1h-4zM378 445h4v1h-4zM374 446h4v1h-4zM369 447h5v1h-5zM365 448h4v1h-4zM361 449h4v1h-4zM357 450h4v1h-4zM353 451h4v1h-4zM349 452h4v1h-4zM344 453h5v1h-5zM340 454h4v1h-4zM336 455h4v1h-4zM331 456h5v1h-5zM327 457h4v1h-4zM322 458h5v1h-5zM318 459h4v1h-4zM313 460h5v1h-5zM306 461h8v1h-8zM299 462h7v1h-7zM293 463h6v1h-6zM289 464h4v1h-4zM285 465h4v1h-4zM281 466h4v1h-4zM277 467h4v1h-4zM272 468h5v1h-5zM267 469h5v1h-5zM262 470h5v1h-5zM257 471h5v1h-5zM251 472h6v1h-6zM244 473h7v1h-7zM238 474h6v1h-6zM232 475h6v1h-6zM226 476h6v1h-6zM220 477h6v1h-6zM214 478h6v1h-6zM209 479h5v1h-5zM204 480h5v1h-5zM199 481h5v1h-5zM194 482h5v1h-5zM191 483h3v1h-3zM188 484h3v1h-3zM184 485h4v1h-4zM181 486h3v1h-3zM177 487h4v1h-4zM172 488h5v1h-5zM168 489h4v1h-4zM163 490h5v1h-5zM159 491h4v1h-4zM155 492h4v1h-4zM151 493h4v1h-4zM147 494h4v1h-4zM143 495h4v1h-4zM138 496h5v1h-5zM134 497h4v1h-4zM130 498h4v1h-4zM126 499h4v1h-4zM121 500h5v1h-5zM116 501h5v1h-5zM111 502h5v1h-5zM106 503h5v1h-5zM101 504h5v1h-5zM95 505h6v1h-6zM91 506h4v1h-4z" fill="#ff00ff" shape-rendering="crispEdges"/>
<g shape-rendering="crispEdges" fill="#000">
<rect x="152" y="180" width="7" height="1"/><rect x="154" y="178" width="1" height="4"/>
<rect x="656" y="107" width="7" height="1"/><rect x="658" y="105" width="1" height="4"/>
</g>
<g shape-rendering="crispEdges">
<rect x="91" y="837" width="1" height="10" fill="#d8463c"/>
<rect x="98" y="842" width="1" height="5" fill="#d8463c"/>
<rect x="105" y="846" width="1" height="11" fill="#5fa55d"/>
<rect x="112" y="846" width="1" height="12" fill="#5fa55d"/>
<rect x="119" y="846" width="1" height="15" fill="#5fa55d"/>
<rect x="126" y="846" width="1" height="11" fill="#5fa55d"/>
<rect x="133" y="846" width="1" height="16" fill="#5fa55d"/>
<rect x="140" y="846" width="1" height="10" fill="#5fa55d"/>
<rect x="147" y="837" width="1" height="10" fill="#d8463c"/>
<rect x="154" y="846" width="1" height="7" fill="#5fa55d"/>
<rect x="161" y="846" width="1" height="26" fill="#5fa55d"/>
<rect x="168" y="846" width="1" height="47" fill="#5fa55d"/>
<rect x="175" y="846" width="1" height="46" fill="#5fa55d"/>
<rect x="182" y="846" width="1" height="14" fill="#5fa55d"/>
<rect x="189" y="846" width="1" height="3" fill="#5fa55d"/>
<rect x="196" y="846" width="1" height="1" fill="#5fa55d"/>
<rect x="203" y="838" width="1" height="9" fill="#d8463c"/>
<rect x="210" y="846" width="1" height="7" fill="#5fa55d"/>
<rect x="217" y="846" width="1" height="21" fill="#5fa55d"/>
<rect x="224" y="846" width="1" height="31" fill="#5fa55d"/>
<rect x="231" y="846" width="1" height="35" fill="#5fa55d"/>
<rect x="238" y="846" width="1" height="43" fill="#5fa55d"/>
<rect x="245" y="846" width="1" height="50" fill="#5fa55d"/>
<rect x="252" y="846" width="1" height="39" fill="#5fa55d"/>
<rect x="259" y="846" width="1" height="29" fill="#5fa55d"/>
<rect x="266" y="846" width="1" height="20" fill="#5fa55d"/>
<rect x="273" y="846" width="1" height="7" fill="#5fa55d"/>
<rect x="280" y="844" width="1" height="3" fill="#d8463c"/>
<rect x="287" y="835" width="1" height="12" fill="#d8463c"/>
<rect x="294" y="840" width="1" height="7" fill="#d8463c"/>
<rect x="301" y="844" width="1" height="3" fill="#d8463c"/>
<rect x="308" y="846" width="1" height="5" fill="#5fa55d"/>
<rect x="315" y="845" width="1" height="2" fill="#d8463c"/>
<rect x="322" y="839" width="1" height="8" fill="#d8463c"/>
<rect x="329" y="838" width="1" height="9" fill="#d8463c"/>
<rect x="336" y="824" width="1" height="23" fill="#d8463c"/>
<rect x="343" y="824" width="1" height="23" fill="#d8463c"/>
<rect x="350" y="826" width="1" height="21" fill="#d8463c"/>
<rect x="357" y="827" width="1" height="20" fill="#d8463c"/>
<rect x="364" y="827" width="1" height="20" fill="#d8463c"/>
<rect x="371" y="838" width="1" height="9" fill="#d8463c"/>
<rect x="378" y="846" width="1" height="5" fill="#5fa55d"/>
<rect x="385" y="846" width="1" height="10" fill="#5fa55d"/>
<rect x="392" y="846" width="1" height="10" fill="#5fa55d"/>
<rect x="399" y="846" width="1" height="11" fill="#5fa55d"/>
<rect x="406" y="839" width="1" height="8" fill="#d8463c"/>
<rect x="413" y="839" width="1" height="8" fill="#d8463c"/>
<rect x="420" y="832" width="1" height="15" fill="#d8463c"/>
<rect x="427" y="822" width="1" height="25" fill="#d8463c"/>
<rect x="434" y="815" width="1" height="32" fill="#d8463c"/>
<rect x="441" y="814" width="1" height="33" fill="#d8463c"/>
<rect x="448" y="819" width="1" height="28" fill="#d8463c"/>
<rect x="455" y="821" width="1" height="26" fill="#d8463c"/>
<rect x="462" y="829" width="1" height="18" fill="#d8463c"/>
<rect x="469" y="836" width="1" height="11" fill="#d8463c"/>
<rect x="476" y="842" width="1" height="5" fill="#d8463c"/>
<rect x="483" y="846" width="1" height="11" fill="#5fa55d"/>
<rect x="490" y="846" width="1" height="14" fill="#5fa55d"/>
<rect x="497" y="846" width="1" height="18" fill="#5fa55d"/>
<rect x="504" y="846" width="1" height="28" fill="#5fa55d"/>
<rect x="511" y="846" width="1" height="33" fill="#5fa55d"/>
<rect x="518" y="846" width="1" height="34" fill="#5fa55d"/>
<rect x="525" y="846" width="1" height="30" fill="#5fa55d"/>
<rect x="532" y="846" width="1" height="18" fill="#5fa55d"/>
<rect x="539" y="846" width="1" height="20" fill="#5fa55d"/>
<rect x="546" y="846" width="1" height="8" fill="#5fa55d"/>
<rect x="553" y="846" width="1" height="8" fill="#5fa55d"/>
<rect x="560" y="846" width="1" height="4" fill="#5fa55d"/>
<rect x="567" y="846" width="1" height="7" fill="#5fa55d"/>
<rect x="574" y="846" width="1" height="7" fill="#5fa55d"/>
<rect x="581" y="846" width="1" height="9" fill="#5fa55d"/>
<rect x="588" y="846" width="1" height="5" fill="#5fa55d"/>
<rect x="595" y="837" width="1" height="10" fill="#d8463c"/>
<rect x="602" y="826" width="1" height="21" fill="#d8463c"/>
<rect x="609" y="822" width="1" height="25" fill="#d8463c"/>
<rect x="616" y="807" width="1" height="40" fill="#d8463c"/>
<rect x="623" y="798" width="1" height="49" fill="#d8463c"/>
<rect x="630" y="798" width="1" height="49" fill="#d8463c"/>
<rect x="637" y="810" width="1" height="37" fill="#d8463c"/>
<rect x="644" y="824" width="1" height="23" fill="#d8463c"/>
<rect x="651" y="817" width="1" height="30" fill="#d8463c"/>
<rect x="658" y="821" width="1" height="26" fill="#d8463c"/>
<rect x="665" y="833" width="1" height="14" fill="#d8463c"/>
<rect x="672" y="842" width="1" height="5" fill="#d8463c"/>
<rect x="679" y="846" width="1" height="10" fill="#5fa55d"/>
<rect x="686" y="846" width="1" height="8" fill="#5fa55d"/>
</g>
<path d="M96 796h4v1h-4zM91 797h5v1h-5zM100 797h3v1h-3zM103 798h3v1h-3zM106 799h5v1h-5zM111 800h5v1h-5zM116 801h5v1h-5zM121 802h6v1h-6zM127 803h4v1h-4zM131 804h4v1h-4zM145 804h7v1h-7zM135 805h10v1h-10zM152 805h4v1h-4zM156 806h2v1h-2zM158 807h2v1h-2zM160 808h2v1h-2zM162 809h1v1h-1zM163 810h1v1h-1zM164 811h1v1h-1zM667 811h8v1h-8zM165 812h2v1h-2zM661 812h6v1h-6zM675 812h8v1h-8zM167 813h1v1h-1zM658 813h3v1h-3zM683 813h4v1h-4zM168 814h1v1h-1zM656 814h2v1h-2zM169 815h1v1h-1zM654 815h2v1h-2zM170 816h1v1h-1zM652 816h2v1h-2zM171 817h2v1h-2zM649 817h3v1h-3zM173 818h1v1h-1zM647 818h2v1h-2zM174 819h1v1h-1zM645 819h2v1h-2zM175 820h2v1h-2zM464 820h18v1h-18zM643 820h2v1h-2zM177 821h3v1h-3zM199 821h11v1h-11zM459 821h5v1h-5zM482 821h5v1h-5zM640 821h3v1h-3zM180 822h19v1h-19zM210 822h4v1h-4zM456 822h3v1h-3zM487 822h3v1h-3zM638 822h2v1h-2zM214 823h3v1h-3zM453 823h3v1h-3zM490 823h4v1h-4zM636 823h2v1h-2zM217 824h2v1h-2zM451 824h2v1h-2zM494 824h3v1h-3zM635 824h1v1h-1zM219 825h1v1h-1zM449 825h2v1h-2zM497 825h2v1h-2zM633 825h2v1h-2zM220 826h2v1h-2zM447 826h2v1h-2zM499 826h3v1h-3zM632 826h1v1h-1zM222 827h2v1h-2zM445 827h2v1h-2zM502 827h2v1h-2zM631 827h1v1h-1zM224 828h1v1h-1zM443 828h2v1h-2zM504 828h2v1h-2zM629 828h2v1h-2zM225 829h2v1h-2zM441 829h2v1h-2zM506 829h2v1h-2zM628 829h1v1h-1zM227 830h1v1h-1zM439 830h2v1h-2zM508 830h2v1h-2zM627 830h1v1h-1zM228 831h2v1h-2zM438 831h1v1h-1zM510 831h2v1h-2zM626 831h1v1h-1zM230 832h1v1h-1zM436 832h2v1h-2zM512 832h2v1h-2zM624 832h2v1h-2zM231 833h1v1h-1zM434 833h2v1h-2zM514 833h1v1h-1zM623 833h1v1h-1zM232 834h2v1h-2zM432 834h2v1h-2zM515 834h2v1h-2zM622 834h1v1h-1zM234 835h1v1h-1zM430 835h2v1h-2zM517 835h2v1h-2zM621 835h1v1h-1zM235 836h1v1h-1zM428 836h2v1h-2zM519 836h2v1h-2zM619 836h2v1h-2zM236 837h1v1h-1zM426 837h2v1h-2zM521 837h2v1h-2zM618 837h1v1h-1zM237 838h2v1h-2zM371 838h1v1h-1zM424 838h2v1h-2zM523 838h2v1h-2zM617 838h1v1h-1zM239 839h1v1h-1zM367 839h4v1h-4zM372 839h5v1h-5zM422 839h2v1h-2zM525 839h2v1h-2zM615 839h2v1h-2zM240 840h1v1h-1zM363 840h4v1h-4zM377 840h6v1h-6zM418 840h4v1h-4zM527 840h3v1h-3zM613 840h2v1h-2zM241 841h2v1h-2zM359 841h4v1h-4zM383 841h7v1h-7zM413 841h5v1h-5zM530 841h3v1h-3zM611 841h2v1h-2zM243 842h1v1h-1zM356 842h3v1h-3zM390 842h6v1h-6zM406 842h7v1h-7zM533 842h2v1h-2zM609 842h2v1h-2zM244 843h1v1h-1zM354 843h2v1h-2zM396 843h10v1h-10zM535 843h2v1h-2zM607 843h2v1h-2zM245 844h2v1h-2zM351 844h3v1h-3zM537 844h2v1h-2zM605 844h2v1h-2zM247 845h1v1h-1zM348 845h3v1h-3zM539 845h5v1h-5zM603 845h2v1h-2zM248 846h2v1h-2zM344 846h4v1h-4zM544 846h7v1h-7zM600 846h3v1h-3zM250 847h1v1h-1zM341 847h3v1h-3zM551 847h14v1h-14zM598 847h2v1h-2zM251 848h1v1h-1zM339 848h2v1h-2zM565 848h11v1h-11zM596 848h2v1h-2zM252 849h2v1h-2zM337 849h2v1h-2zM576 849h5v1h-5zM591 849h5v1h-5zM254 850h2v1h-2zM333 850h4v1h-4zM581 850h10v1h-10zM256 851h2v1h-2zM330 851h3v1h-3zM258 852h3v1h-3zM323 852h7v1h-7zM261 853h2v1h-2zM318 853h5v1h-5zM263 854h2v1h-2zM285 854h33v1h-33zM265 855h4v1h-4zM281 855h4v1h-4zM269 856h12v1h-12z" fill="#1a1aa6" shape-rendering="crispEdges"/>
<path d="M91 793h4v1h-4zM95 794h4v1h-4zM99 795h1v1h-1zM100 796h1v1h-1zM100 797h1v1h-1zM101 798h1v1h-1zM102 799h1v1h-1zM103 800h1v1h-1zM147 800h1v1h-1zM103 801h1v1h-1zM146 801h1v1h-1zM148 801h1v1h-1zM654 801h6v1h-6zM104 802h1v1h-1zM145 802h1v1h-1zM149 802h1v1h-1zM651 802h3v1h-3zM660 802h1v1h-1zM105 803h3v1h-3zM145 803h1v1h-1zM150 803h1v1h-1zM630 803h1v1h-1zM650 803h1v1h-1zM661 803h2v1h-2zM108 804h3v1h-3zM144 804h1v1h-1zM151 804h1v1h-1zM629 804h1v1h-1zM631 804h3v1h-3zM649 804h1v1h-1zM663 804h1v1h-1zM111 805h3v1h-3zM143 805h1v1h-1zM151 805h1v1h-1zM628 805h1v1h-1zM634 805h3v1h-3zM648 805h1v1h-1zM664 805h1v1h-1zM114 806h2v1h-2zM143 806h1v1h-1zM152 806h1v1h-1zM626 806h2v1h-2zM637 806h3v1h-3zM647 806h1v1h-1zM665 806h2v1h-2zM116 807h3v1h-3zM142 807h1v1h-1zM153 807h1v1h-1zM625 807h1v1h-1zM640 807h2v1h-2zM646 807h1v1h-1zM667 807h2v1h-2zM119 808h8v1h-8zM141 808h1v1h-1zM154 808h1v1h-1zM624 808h1v1h-1zM642 808h2v1h-2zM645 808h1v1h-1zM669 808h2v1h-2zM127 809h2v1h-2zM140 809h1v1h-1zM155 809h1v1h-1zM623 809h1v1h-1zM644 809h1v1h-1zM671 809h1v1h-1zM129 810h2v1h-2zM137 810h4v1h-4zM155 810h1v1h-1zM622 810h1v1h-1zM672 810h1v1h-1zM131 811h2v1h-2zM134 811h3v1h-3zM156 811h1v1h-1zM453 811h4v1h-4zM621 811h1v1h-1zM673 811h1v1h-1zM133 812h1v1h-1zM156 812h1v1h-1zM448 812h5v1h-5zM457 812h4v1h-4zM621 812h1v1h-1zM674 812h1v1h-1zM157 813h1v1h-1zM442 813h6v1h-6zM461 813h3v1h-3zM620 813h1v1h-1zM675 813h1v1h-1zM157 814h1v1h-1zM440 814h2v1h-2zM464 814h4v1h-4zM619 814h1v1h-1zM676 814h1v1h-1zM158 815h1v1h-1zM438 815h2v1h-2zM468 815h2v1h-2zM619 815h1v1h-1zM677 815h1v1h-1zM158 816h1v1h-1zM436 816h2v1h-2zM470 816h2v1h-2zM618 816h1v1h-1zM678 816h1v1h-1zM158 817h1v1h-1zM202 817h2v1h-2zM434 817h2v1h-2zM472 817h2v1h-2zM617 817h1v1h-1zM679 817h8v1h-8zM159 818h1v1h-1zM201 818h1v1h-1zM204 818h1v1h-1zM433 818h1v1h-1zM474 818h2v1h-2zM617 818h1v1h-1zM159 819h1v1h-1zM199 819h2v1h-2zM205 819h1v1h-1zM433 819h1v1h-1zM476 819h1v1h-1zM616 819h1v1h-1zM160 820h1v1h-1zM198 820h1v1h-1zM206 820h1v1h-1zM432 820h1v1h-1zM477 820h1v1h-1zM616 820h1v1h-1zM160 821h1v1h-1zM197 821h1v1h-1zM207 821h1v1h-1zM431 821h1v1h-1zM478 821h1v1h-1zM615 821h1v1h-1zM161 822h1v1h-1zM192 822h5v1h-5zM208 822h1v1h-1zM430 822h1v1h-1zM479 822h1v1h-1zM614 822h1v1h-1zM161 823h1v1h-1zM189 823h3v1h-3zM209 823h1v1h-1zM429 823h1v1h-1zM480 823h1v1h-1zM614 823h1v1h-1zM162 824h1v1h-1zM188 824h1v1h-1zM209 824h1v1h-1zM429 824h1v1h-1zM481 824h1v1h-1zM613 824h1v1h-1zM162 825h1v1h-1zM187 825h1v1h-1zM210 825h1v1h-1zM428 825h1v1h-1zM482 825h1v1h-1zM613 825h1v1h-1zM163 826h1v1h-1zM186 826h1v1h-1zM211 826h1v1h-1zM427 826h1v1h-1zM483 826h1v1h-1zM612 826h1v1h-1zM163 827h1v1h-1zM184 827h2v1h-2zM212 827h1v1h-1zM426 827h1v1h-1zM484 827h2v1h-2zM612 827h1v1h-1zM164 828h1v1h-1zM183 828h1v1h-1zM212 828h1v1h-1zM425 828h1v1h-1zM486 828h1v1h-1zM611 828h1v1h-1zM164 829h1v1h-1zM182 829h1v1h-1zM213 829h1v1h-1zM424 829h1v1h-1zM487 829h2v1h-2zM611 829h1v1h-1zM165 830h1v1h-1zM182 830h1v1h-1zM214 830h1v1h-1zM423 830h1v1h-1zM489 830h2v1h-2zM610 830h1v1h-1zM165 831h1v1h-1zM181 831h1v1h-1zM215 831h1v1h-1zM363 831h2v1h-2zM422 831h1v1h-1zM491 831h2v1h-2zM609 831h1v1h-1zM166 832h1v1h-1zM181 832h1v1h-1zM215 832h1v1h-1zM357 832h6v1h-6zM365 832h1v1h-1zM421 832h1v1h-1zM493 832h2v1h-2zM608 832h2v1h-2zM166 833h1v1h-1zM180 833h1v1h-1zM216 833h1v1h-1zM353 833h4v1h-4zM366 833h1v1h-1zM420 833h1v1h-1zM495 833h2v1h-2zM606 833h2v1h-2zM166 834h1v1h-1zM179 834h1v1h-1zM217 834h1v1h-1zM349 834h4v1h-4zM367 834h1v1h-1zM419 834h1v1h-1zM497 834h1v1h-1zM603 834h3v1h-3zM167 835h1v1h-1zM179 835h1v1h-1zM218 835h1v1h-1zM343 835h6v1h-6zM368 835h1v1h-1zM417 835h2v1h-2zM498 835h1v1h-1zM602 835h1v1h-1zM167 836h1v1h-1zM178 836h1v1h-1zM218 836h1v1h-1zM341 836h2v1h-2zM369 836h1v1h-1zM416 836h1v1h-1zM499 836h1v1h-1zM601 836h1v1h-1zM168 837h1v1h-1zM178 837h1v1h-1zM219 837h1v1h-1zM339 837h2v1h-2zM370 837h2v1h-2zM415 837h1v1h-1zM500 837h1v1h-1zM600 837h1v1h-1zM169 838h1v1h-1zM177 838h1v1h-1zM220 838h1v1h-1zM337 838h2v1h-2zM372 838h1v1h-1zM414 838h1v1h-1zM500 838h1v1h-1zM600 838h1v1h-1zM170 839h1v1h-1zM177 839h1v1h-1zM221 839h1v1h-1zM336 839h1v1h-1zM373 839h1v1h-1zM406 839h8v1h-8zM501 839h1v1h-1zM599 839h1v1h-1zM171 840h2v1h-2zM176 840h1v1h-1zM221 840h1v1h-1zM335 840h1v1h-1zM374 840h1v1h-1zM405 840h1v1h-1zM502 840h1v1h-1zM598 840h1v1h-1zM173 841h1v1h-1zM176 841h1v1h-1zM222 841h1v1h-1zM334 841h1v1h-1zM375 841h2v1h-2zM404 841h1v1h-1zM503 841h1v1h-1zM598 841h1v1h-1zM174 842h2v1h-2zM223 842h1v1h-1zM334 842h1v1h-1zM377 842h1v1h-1zM404 842h1v1h-1zM504 842h1v1h-1zM597 842h1v1h-1zM224 843h1v1h-1zM333 843h1v1h-1zM378 843h2v1h-2zM403 843h1v1h-1zM505 843h1v1h-1zM596 843h1v1h-1zM224 844h2v1h-2zM332 844h1v1h-1zM380 844h2v1h-2zM402 844h1v1h-1zM506 844h1v1h-1zM595 844h1v1h-1zM226 845h1v1h-1zM332 845h1v1h-1zM382 845h3v1h-3zM401 845h1v1h-1zM507 845h2v1h-2zM595 845h1v1h-1zM227 846h1v1h-1zM331 846h1v1h-1zM385 846h4v1h-4zM400 846h1v1h-1zM509 846h1v1h-1zM594 846h1v1h-1zM228 847h1v1h-1zM330 847h1v1h-1zM389 847h11v1h-11zM510 847h1v1h-1zM593 847h1v1h-1zM229 848h1v1h-1zM329 848h1v1h-1zM399 848h1v1h-1zM511 848h2v1h-2zM557 848h5v1h-5zM592 848h1v1h-1zM230 849h1v1h-1zM286 849h4v1h-4zM325 849h5v1h-5zM513 849h1v1h-1zM546 849h6v1h-6zM554 849h3v1h-3zM562 849h2v1h-2zM591 849h1v1h-1zM231 850h1v1h-1zM285 850h1v1h-1zM290 850h2v1h-2zM322 850h3v1h-3zM514 850h1v1h-1zM545 850h1v1h-1zM552 850h2v1h-2zM564 850h2v1h-2zM590 850h1v1h-1zM232 851h1v1h-1zM284 851h1v1h-1zM292 851h2v1h-2zM320 851h2v1h-2zM515 851h1v1h-1zM543 851h2v1h-2zM566 851h5v1h-5zM589 851h1v1h-1zM233 852h1v1h-1zM283 852h1v1h-1zM294 852h5v1h-5zM318 852h2v1h-2zM516 852h1v1h-1zM530 852h5v1h-5zM542 852h1v1h-1zM571 852h5v1h-5zM586 852h3v1h-3zM233 853h1v1h-1zM282 853h1v1h-1zM299 853h3v1h-3zM316 853h2v1h-2zM517 853h1v1h-1zM528 853h2v1h-2zM535 853h3v1h-3zM540 853h2v1h-2zM576 853h4v1h-4zM583 853h3v1h-3zM234 854h1v1h-1zM281 854h1v1h-1zM302 854h2v1h-2zM313 854h3v1h-3zM518 854h7v1h-7zM526 854h2v1h-2zM538 854h2v1h-2zM580 854h3v1h-3zM235 855h1v1h-1zM279 855h2v1h-2zM304 855h2v1h-2zM311 855h2v1h-2zM525 855h1v1h-1zM235 856h1v1h-1zM277 856h2v1h-2zM306 856h2v1h-2zM309 856h2v1h-2zM236 857h1v1h-1zM276 857h1v1h-1zM308 857h1v1h-1zM237 858h1v1h-1zM274 858h2v1h-2zM238 859h1v1h-1zM273 859h1v1h-1zM238 860h1v1h-1zM272 860h1v1h-1zM239 861h1v1h-1zM271 861h1v1h-1zM240 862h1v1h-1zM270 862h1v1h-1zM241 863h1v1h-1zM268 863h2v1h-2zM241 864h1v1h-1zM267 864h1v1h-1zM242 865h1v1h-1zM266 865h1v1h-1zM243 866h1v1h-1zM261 866h5v1h-5zM244 867h1v1h-1zM255 867h6v1h-6zM245 868h10v1h-10z" fill="#000" shape-rendering="crispEdges"/>
</svg>
<div id="toolbar">
<div class="sep" style="left:67px"></div>
<div class="sep" style="left:138px"></div>
<div class="sep" style="left:206px"></div>
<div class="sep" style="left:253px"></div>
<div class="sep" style="left:300px"></div>
<div class="sep" style="left:347px"></div>
<div class="sep" style="left:394px"></div>
<div class="sep" style="left:422px"></div>
<div class="sep" style="left:450px"></div>
<div class="sep" style="left:479px"></div>
<div class="sep" style="left:507px"></div>
<div class="sep" style="left:535px"></div>
<div class="sep" style="left:562px"></div>
<div class="sep" style="left:590px"></div>
<div class="sep" style="left:618px"></div>
<div class="sep" style="left:646px"></div>
<div class="sep" style="left:674px"></div>
<div class="sep" style="left:744px"></div>
<div class="sep" style="left:772px"></div>
<svg class="tbi" style="left:10px" width="17" height="14" viewBox="0 0 17 14"><path d="M1.1 4.3 L7 -1 L7 2.2 C11.8 2.2 14.8 5.4 14.6 10.8 C13.6 8.2 11.2 5.9 7 5.9 L7 9.3 Z" fill="#353b45"/></svg>
<div class="tbt" style="left:28px;font-size:12.4px;top:-3.5px">返回</div>
<svg class="tbi" style="left:81px;top:0.6px" width="15" height="12" viewBox="0 0 15 12"><path d="M7.35 -2.6 L0.7 4.5 L2.9 4.5 L2.9 11.1 L6.2 11.1 L6.2 7.3 L8.8 7.3 L8.8 11.1 L11.8 11.1 L11.8 4.5 L14 4.5 Z" fill="#353b45"/></svg>
<div class="tbt" style="left:99px;font-size:12.4px;top:-3.5px">首页</div>
<svg class="tbi" style="left:160px" width="26" height="16" viewBox="0 0 26 16"><path d="M18.3 5.2 A6.1 6.1 0 1 0 16.3 10.6" fill="none" stroke="#353b45" stroke-width="1.75" stroke-linecap="round"/><path d="M16.7 4.9 L22.2 4.7 L19.5 8.9 Z" fill="#353b45"/></svg>
<svg class="tbi" style="left:214px" width="30" height="16" viewBox="0 0 30 16"><g fill="#353b45"><path d="M6.1 9.8 L8.9 7.4 V12.7 H6.1Z"/><path d="M11 5.6 L13.9 3.4 V12.7 H11Z"/><path d="M16 8 L19 5.4 V12.7 H16Z"/><path d="M21.1 3 L24.1 0.4 V12.7 H21.1Z"/></g><path d="M6.2 7 L12.7 0.6 L16.3 4.5 L22.4 -1.6" fill="none" stroke="#353b45" stroke-width="1.5"/></svg>
<svg class="tbi" style="left:264px" width="26" height="16" viewBox="0 0 26 16"><g fill="#353b45"><rect x="2.1" y="2.5" width="3.5" height="5.6" rx="1"/><rect x="3.4" y="1.6" width="1" height="7.4"/><rect x="7.9" y="-2" width="3.1" height="9.6" rx="0.8"/><rect x="8.9" y="0" width="1.1" height="12.7"/><rect x="13.1" y="4" width="3.4" height="4.6" rx="1"/><rect x="14.3" y="2" width="1.1" height="9.2"/><rect x="18.5" y="3.5" width="3.4" height="4.6" rx="1"/><rect x="19.7" y="0" width="1.1" height="11.7"/></g></svg>
<div class="tbt" style="left:310px;font-size:14.5px;top:-4px;letter-spacing:0.95px">tick</div>
<div class="tbt" style="left:360px">5日</div>
<div class="tbt" style="left:404.5px">5</div>
<div class="tbt" style="left:429px">15</div>
<div class="tbt" style="left:457px">30</div>
<div class="tbt" style="left:485px">60</div>
<div class="tbt" style="left:511.5px">2H</div>
<div class="tbt" style="left:539.5px">4H</div>
<div class="tbt" style="left:570px">日</div>
<div class="tbt" style="left:598px">周</div>
<div class="tbt" style="left:625px">月</div>
<div class="tbt" style="left:653.5px">年</div>
<svg class="tbi" style="left:688px" width="14" height="12" viewBox="0 0 14 12"><g fill="#3a3a3a"><rect x="0.4" y="-0.6" width="13.2" height="2.2" rx="0.8"/><rect x="0.4" y="4" width="13.2" height="2.4" rx="0.8"/><rect x="0.4" y="8.6" width="13.2" height="2.4" rx="0.8"/></g></svg>
<div class="tbt" style="left:706px">更多</div>
<svg class="tbi" style="left:746px" width="26" height="16" viewBox="0 0 26 16"><g fill="none" stroke="#353b45" stroke-width="1.7" stroke-linecap="round"><path d="M11.6 -1 C9.4 -1.2 9.3 0.6 9.2 2 L8.6 9.3 C8.4 11.4 6.6 11.5 4.6 11"/><path d="M6.2 3.8 H10.8"/><path d="M13.9 5.9 L19.7 11.1 M19.7 5.9 L13.9 11.1" stroke-width="1.8"/></g></svg>
</div>
<div id="side">
<div class="sc" style="top:6px">分</div><div class="sc" style="top:20.5px">时</div><div class="sc" style="top:35px">图</div>
<div style="position:absolute;left:0;top:51px;width:16px;height:46px;background:#ff6600"></div>
<div class="sc" style="top:55px;color:#fff;font-family:'Liberation Serif',serif;font-size:12px;top:54.5px">K</div><div class="sc" style="top:69.5px;color:#fff">线</div><div class="sc" style="top:83px;color:#fff">图</div>
<div class="sc" style="top:104px">闪</div><div class="sc" style="top:118px">电</div><div class="sc" style="top:132.5px">图</div>
<div style="position:absolute;left:0;top:149px;width:16px;height:1px;background:#d2d6e0"></div>
<div class="sc" style="top:156px">合</div><div class="sc" style="top:170.5px">约</div><div class="sc" style="top:184.5px">资</div><div class="sc" style="top:198.5px">料</div>
</div>
<div class="yl" style="top:32px">0.8900</div>
<div class="yl" style="top:87px">0.8841</div>
<div class="yl" style="top:142px">0.8782</div>
<div class="yl" style="top:197px">0.8723</div>
<div class="yl" style="top:252px">0.8664</div>
<div class="yl" style="top:307px">0.8606</div>
<div class="yl" style="top:362px">0.8547</div>
<div class="yl" style="top:417px">0.8488</div>
<div class="yl" style="top:472px">0.8429</div>
<div class="yl" style="top:527px">0.8370</div>
<div class="yl" style="top:582px">0.8311</div>
<div class="yl" style="top:637px">0.8253</div>
<div class="yl" style="top:714.3px">0.0047</div>
<div class="yl" style="top:738.0px">0.0038</div>
<div class="yl" style="top:763.5px">0.0028</div>
<div class="yl" style="top:788.2px">0.0019</div>
<div class="yl" style="top:813.7px">0.0009</div>
<div class="yl" style="top:837.1px">-0.0000</div>
<div class="yl" style="top:862.6px">-0.0010</div>
<div class="yl" style="top:887.1px">-0.0019</div>
<div class="lg" style="left:89.5px;font-size:12px;letter-spacing:-0.45px;color:#000;top:19px">欧元英镑</div>
<div class="lg" style="left:134.5px;font-size:12px;color:#ff7a1a;top:19px">【</div><div class="lg" style="left:147.5px;font-size:12px;letter-spacing:-0.45px;color:#ff7a1a;top:19px">日线</div><div class="lg" style="left:175.5px;font-size:12px;color:#ff7a1a;top:19px">】</div>
<svg style="position:absolute;left:184px;top:24px" width="12" height="13" viewBox="0 0 12 13"><circle cx="5.6" cy="6.4" r="4.15" fill="none" stroke="#ff8a1c" stroke-width="0.9"/><path d="M5.6 2.2V10.6M1.4 6.4H9.8" stroke="#ff8a1c" stroke-width="0.9" fill="none"/></svg>
<svg style="position:absolute;left:202px;top:20px" width="14" height="14" viewBox="0 0 14 14"><g shape-rendering="crispEdges"><rect x="0" y="0" width="13" height="13" fill="#10108a"/><rect x="1" y="1" width="10" height="10" fill="#fff"/></g><path d="M1.2 7.6 L4.6 3.5 L7.2 6 L9.4 4.4 L11 4.4" fill="none" stroke="#f02020" stroke-width="1.1"/><path d="M1.2 10.2 L4.6 6.2 L7.2 9.4 L9.4 7.1 L11 7.1" fill="none" stroke="#2030e8" stroke-width="1.1"/></svg>
<div class="lg" style="left:217.5px">MA1(50,0,200,0)</div>
<div class="lg" style="left:314.5px">MA50:0.8713</div>
<div class="lg" style="left:397.5px;color:#1c1c9c">MA0:0.8800</div>
<div class="lg" style="left:473.3px;color:#ff22ff">MA200:0.8553</div>
<div class="lg" style="left:563px;color:#ff7a1a">MA0:0.8800</div>
<div class="pl" style="left:159px;top:166px">0.8751</div>
<div class="pl" style="left:663px;top:93px">0.8829</div>
<svg style="position:absolute;left:18px;top:700px" width="16" height="16" viewBox="0 0 16 16"><g stroke="#ff1010" stroke-width="1.05" fill="none"><path d="M8 1V3M8 13V15M1 8H3M13 8H15M2.2 2.3L3.8 3.7M12.2 12.3L13.8 13.7M2.2 13.7L3.8 12.3M12.2 3.7L13.8 2.3"/></g><circle cx="8" cy="8" r="3.55" fill="#fff" stroke="#111" stroke-width="1.15"/><circle cx="8" cy="8" r="2.05" fill="#ff1010"/></svg>
<div class="mg" style="left:89.5px">MACD(13,8,9)</div>
<div class="mg" style="left:172.5px;letter-spacing:-0.25px">DIFF:0.0011</div>
<div class="mg" style="left:246.5px;color:#1c1c9c;letter-spacing:-0.2px">DEA:0.0012</div>
<div class="mg" style="left:319.5px;color:#ff22ff">MACD:-0.0003</div>
<div style="position:absolute;left:17px;top:920px;width:69px;height:18px;border:1px solid #d3dbe6;border-top-color:#dfe5ec;box-sizing:content-box;background:#fff"></div>
<div style="position:absolute;left:31px;top:923.5px;font-size:12px;font-weight:bold;color:#ff7a1a;line-height:16px;white-space:nowrap">日线</div>
<svg style="position:absolute;left:61px;top:926px" width="10" height="10" viewBox="0 0 10 10"><path d="M4.5 0.8 L8.8 8.6 L0.2 8.6 Z" fill="#ff7a1a"/></svg>
<div class="tk" style="left:183px"></div><div class="tl" style="left:185px">2025/08</div>
<div class="tk" style="left:330px"></div><div class="tl" style="left:331.5px">2025/09</div>
<div class="tk" style="left:483px"></div><div class="tl" style="left:485.5px">2025/10</div>
<div class="tk" style="left:644px"></div><div class="tl" style="left:646.5px">2025/11</div>
<div style="position:absolute;left:104px;top:937px;width:684px;height:1px;background:#eef2f6"></div>
<div style="position:absolute;left:57px;top:940px;width:731px;height:1px;background:#d0d9e3"></div>
<div style="position:absolute;left:17px;top:940px;width:39px;height:15px;line-height:17px;background:#ff6600;color:#fff;text-align:center;font-size:12px;overflow:hidden">指标</div>
<div style="position:absolute;left:56px;top:941px;width:1px;height:14px;background:#eef1f5"></div>
<div class="btab cjk" style="left:57px;width:39px;padding-left:0px">模板</div>
<div class="btab vip" style="left:97px;width:54px;padding-left:2px"><span class="mn">VIP</span>指标</div>
<div class="btab " style="left:154px;width:25px;padding-left:2px"><span class="mn">MA</span></div>
<div class="btab " style="left:182px;width:37px;padding-left:2px"><span class="mn">MACD</span></div>
<div class="btab " style="left:222px;width:37px;padding-left:2px"><span class="mn">BOLL</span></div>
<div class="btab " style="left:262px;width:31px;padding-left:2px"><span class="mn">VOL</span></div>
<div class="btab " style="left:296px;width:37px;padding-left:2px"><span class="mn">BIAS</span></div>
<div class="btab " style="left:336px;width:31px;padding-left:2px"><span class="mn">CCI</span></div>
<div class="btab " style="left:370px;width:32px;padding-left:2px"><span class="mn">KDJ</span></div>
<div class="btab " style="left:405px;width:37px;padding-left:2px"><span class="mn">LW&amp;</span></div>
<div class="btab " style="left:445px;width:30px;padding-left:2px"><span class="mn">RSI</span></div>
<div class="btab " style="left:478px;width:26px;padding-left:2px"><span class="mn">CR</span></div>
<div class="btab " style="left:507px;width:31px;padding-left:2px"><span class="mn">PSY</span></div>
<div class="btab cjk" style="left:541px;width:39px;padding-left:0px">设置</div>
<div style="position:absolute;left:0;top:955px;width:788px;height:1px;background:#cfd8e3"></div>
<div style="position:absolute;left:0;top:956px;width:788px;height:1px;background:#e4e9f0"></div>
<div style="position:absolute;left:660px;top:928px;font-size:30px;line-height:34px;letter-spacing:2.2px;color:#d3e4f7;-webkit-text-stroke:0.5px #d3e4f7;text-shadow:1.2px 1.2px 0.5px #c4aa9a;white-space:nowrap">FX678</div>
<div style="position:absolute;left:739px;top:959px;width:49px;height:6px;background:#b5b5bd"></div>
<div style="position:absolute;left:0;top:965px;width:788px;height:1px;background:#c6cfda"></div>
<div style="position:absolute;left:0;top:966px;width:788px;height:1px;background:#e6ebf1"></div>
<div style="position:absolute;left:0;top:967px;width:43px;height:14px;border-right:1px solid #d3dbe6;background:#fff"></div>
<div style="position:absolute;left:8.5px;top:968px;font-size:12px;line-height:16px;color:#222;white-space:nowrap">资讯</div>
</div></body></html>
